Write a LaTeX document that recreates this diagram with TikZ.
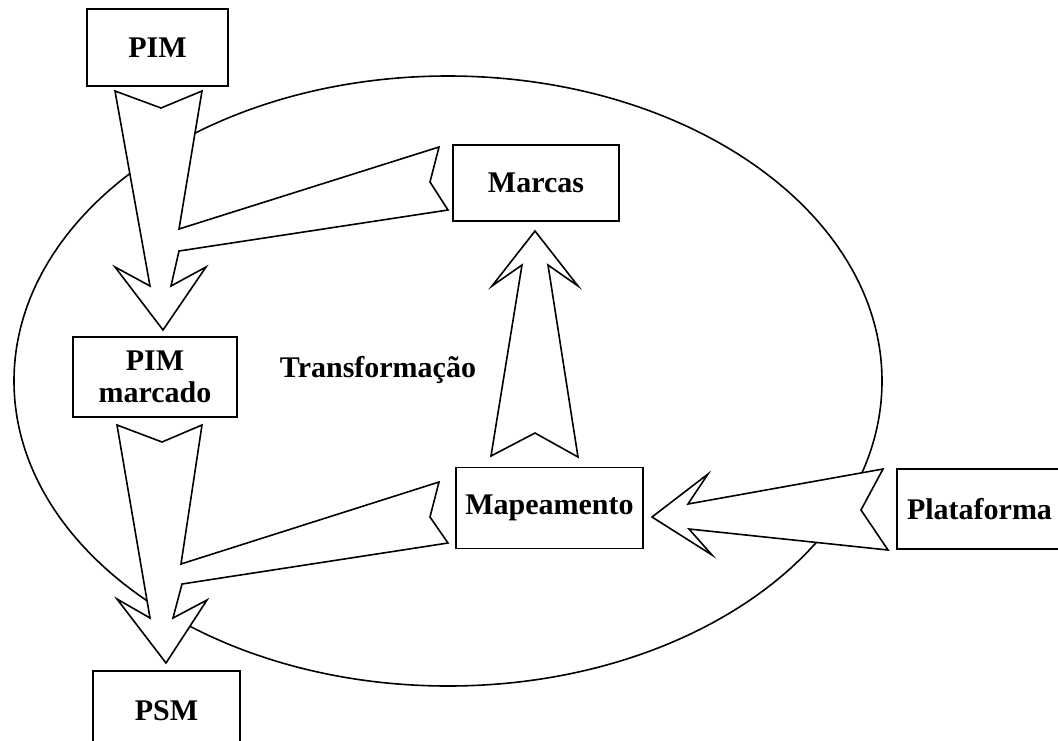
\documentclass[tikz,border=0pt]{standalone}
\usepackage{fontspec}
\setmainfont{Liberation Serif}
\begin{document}
\begin{tikzpicture}[x=1pt,y=-1pt,
  line width=1.6pt, line join=miter,
  box/.style={draw, fill=white, line width=1.6pt, inner sep=0pt,
    font=\fontsize{30}{32}\selectfont\bfseries, align=center},
  blockarrow/.style={draw, fill=white, line width=1.6pt}]
\useasboundingbox (0,0) rectangle (1058,740);

% transformation boundary
\draw (448,381) ellipse [x radius=434, y radius=305];

% PIM -> PIM marcado, with the Marcas arrow merging in
\draw[blockarrow] (115,91) -- (161,108) -- (202,91) -- (179,229)
  -- (439,147) -- (430,182) -- (448,210) -- (179,251)
  -- (171,286) -- (206,267) -- (163,330) -- (115,267) -- (150,286) -- cycle;

% PIM marcado -> PSM, with the Mapeamento arrow merging in
\draw[blockarrow] (117,425) -- (162,442) -- (202,425) -- (181,564)
  -- (439,482) -- (430,517) -- (448,543) -- (182,584)
  -- (173,618) -- (207,600) -- (166,663) -- (117,599) -- (150,618) -- cycle;

% Mapeamento -> Marcas
\draw[blockarrow] (535,231) -- (578,286) -- (548,265) -- (578,457)
  -- (535,433) -- (491,456) -- (522,265) -- (492,286) -- cycle;

% Plataforma -> Mapeamento
\draw[blockarrow] (652,517) -- (708,474) -- (688,504) -- (883,469)
  -- (861,510) -- (888,550) -- (689,529) -- (712,555) -- cycle;

% model boxes
\node[box, minimum width=141, minimum height=77] (pim) at (157.5,47.5) {PIM};
\node[box, minimum width=164, minimum height=80] (pimm) at (155,377)
  {PIM\\marcado};
\node[box, minimum width=147, minimum height=80] (psm) at (166.5,711) {PSM};
\node[box, minimum width=166, minimum height=76] (marcas) at (536,183) {Marcas};
\node[box, minimum width=187, minimum height=81] (mapa) at (549.5,508) {Mapeamento};
\node[box, minimum width=165, minimum height=80] (plat) at (979.5,509) {Plataforma};

\node[font=\fontsize{30}{32}\selectfont\bfseries] (transf) at (378,370) {Transformação};
\end{tikzpicture}
\end{document}
